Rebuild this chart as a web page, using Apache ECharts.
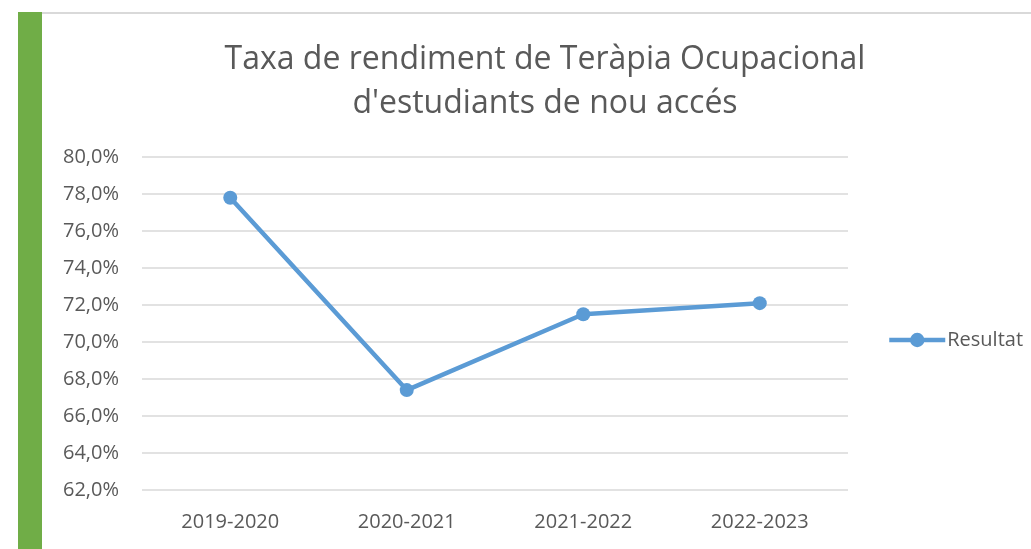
<!DOCTYPE html>
<html lang="ca">
<head>
    <meta charset="UTF-8"/>
    <title>Taxa de rendiment</title>
    <style>
        * { margin: 0; padding: 0; }
        body { background: #fff; overflow: hidden; }
        #chart { width: 1031px; height: 549px; }
    </style>
    <script src="https://cdn.jsdelivr.net/npm/echarts@6/dist/echarts.min.js"></script>
</head>
<body>
<div id="chart"></div>
<script>
    const years = ["2019-2020", "2020-2021", "2021-2022", "2022-2023"];
    const resultat = [77.8, 67.4, 71.5, 72.1];
    const yMin = 62, yMax = 80, yStep = 2;

    const font = "'Open Sans', 'Noto Sans', sans-serif";
    const textColor = "#595959";
    const chart = echarts.init(document.getElementById("chart"));

    chart.setOption({
        backgroundColor: "#fff",
        title: {
            text: "Taxa de rendiment de Teràpia Ocupacional\nd'estudiants de nou accés",
            left: 545,
            top: 38,
            padding: 0,
            textAlign: "center",
            textStyle: {
                fontFamily: font,
                fontSize: 32,
                fontWeight: "normal",
                color: textColor,
                lineHeight: 44
            }
        },
        graphic: [
            { type: "rect", shape: { x: 18, y: 12, width: 24, height: 537 }, style: { fill: "#70AD47" } },
            { type: "rect", shape: { x: 42, y: 12, width: 989, height: 2 }, style: { fill: "#d9d9d9" } }
        ],
        legend: {
            left: 887,
            top: 330,
            padding: 0,
            itemWidth: 56,
            itemHeight: 18,
            itemGap: 4,
            lineStyle: { width: 4.5 },
            textStyle: { fontFamily: font, fontSize: 20, color: textColor, padding: [0, 0, 0, -3] }
        },
        grid: { left: 142, right: 183, top: 157, bottom: 59 },
        xAxis: {
            type: "category",
            data: years,
            axisLine: { show: false },
            axisTick: { show: false },
            axisLabel: { fontFamily: font, fontSize: 20, color: textColor, margin: 22 }
        },
        yAxis: {
            type: "value",
            min: yMin,
            max: yMax,
            interval: yStep,
            axisLabel: {
                fontFamily: font,
                fontSize: 20,
                color: textColor,
                margin: 23,
                formatter: v => v.toFixed(1).replace(".", ",") + "%"
            },
            splitLine: { lineStyle: { color: "#d9d9d9", width: 1.5 } }
        },
        series: [{
            name: "Resultat",
            type: "line",
            data: resultat,
            symbol: "circle",
            symbolSize: 14,
            lineStyle: { color: "#5B9BD5", width: 4.5 },
            itemStyle: { color: "#5B9BD5" }
        }]
    });
</script>
</body>
</html>
